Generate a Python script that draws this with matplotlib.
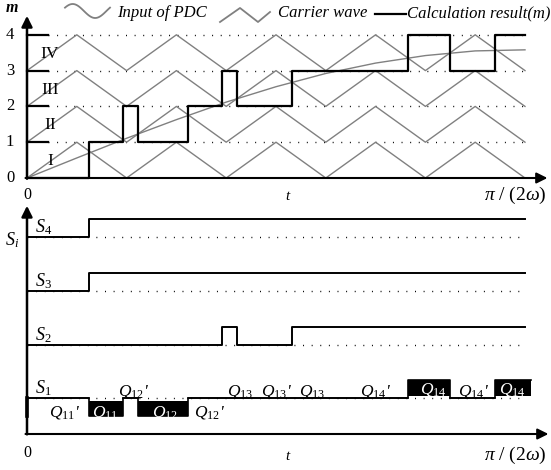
import numpy as np
import matplotlib
matplotlib.use('Agg')
import matplotlib.pyplot as plt

plt.rcParams['font.family'] = ['Liberation Serif', 'DejaVu Serif']
plt.rcParams['mathtext.fontset'] = 'custom'
plt.rcParams['mathtext.rm'] = 'Liberation Serif'
plt.rcParams['mathtext.it'] = 'Liberation Serif:italic'
plt.rcParams['mathtext.bf'] = 'Liberation Serif:bold:italic'

# ---------------- data ----------------
carrier_t = [0.0, 0.1, 0.2, 0.3, 0.4, 0.5, 0.6, 0.7, 0.8, 0.9, 1.0]
carrier_shape = [0, 1, 0, 1, 0, 1, 0, 1, 0, 1, 0]
band_bases = [0, 1, 2, 3]
band_labels = ['I', 'II', 'III', 'IV']

pdc_t = [0.0, 0.1, 0.2, 0.3, 0.4, 0.5, 0.6, 0.7, 0.8, 0.9, 1.0]
pdc_m = [0.0, 0.56, 1.11, 1.63, 2.12, 2.55, 2.92, 3.21, 3.42, 3.55, 3.58]

m_edges = [0.0, 0.125, 0.193, 0.223, 0.323, 0.392, 0.422, 0.532, 0.765, 0.849, 0.94, 1.0]
m_vals = [0, 1, 2, 1, 2, 3, 2, 3, 4, 3, 4]
m_ticks = [0, 1, 2, 3, 4]

s4_edges = [0.0, 0.125, 1.0]
s4_vals = [0, 1]
s3_edges = [0.0, 0.125, 1.0]
s3_vals = [0, 1]
s2_edges = [0.0, 0.392, 0.422, 0.532, 1.0]
s2_vals = [0, 1, 0, 1]
s1_edges = [0.0, 0.125, 0.193, 0.223, 0.323, 0.765, 0.849, 0.94, 1.012]
s1_vals = [0, -1, 0, -1, 0, 1, 0, 1]

s_names = ['$S_\\mathit{4}$', '$S_\\mathit{3}$', '$S_\\mathit{2}$', '$S_\\mathit{1}$']

q_text = ["$Q_\\mathit{11}$'", "$Q_\\mathit{11}$", "$Q_\\mathit{12}$'", "$Q_\\mathit{12}$",
          "$Q_\\mathit{12}$'", "$Q_\\mathit{13}$", "$Q_\\mathit{13}$'", "$Q_\\mathit{13}$",
          "$Q_\\mathit{14}$'", "$Q_\\mathit{14}$", "$Q_\\mathit{14}$'", "$Q_\\mathit{14}$"]
q_t = [0.076, 0.157, 0.213, 0.277, 0.367, 0.428, 0.502, 0.572, 0.699, 0.815, 0.896, 0.974]
q_side = ['below', 'box', 'above', 'box', 'below', 'above', 'above', 'above',
          'above', 'boxup', 'above', 'boxup']

# ---------------- figure ----------------
W, H = 551, 470
fig = plt.figure(figsize=(W / 100, H / 100), dpi=100)

px_t = 498.0   # pixels per unit t
x0 = 27.0
xlim = (-x0 / px_t, (W - x0) / px_t)

gray = '#808080'
dot = (0, (0.7, 5.5))

# ---- top panel ----
ax1 = fig.add_axes([0, (H - 200) / H, 1, 200 / H])
py_m = 35.8
ax1.set_xlim(*xlim)
ax1.set_ylim(-(200 - 178) / py_m, 178 / py_m)
ax1.axis('off')

for k in band_bases:
    ax1.plot(carrier_t, [k + s for s in carrier_shape], color=gray, lw=1.0, zorder=2)
ax1.plot(pdc_t, pdc_m, color=gray, lw=1.0, zorder=2)

for lv in m_ticks[1:]:
    ax1.plot([0.042, 1.0], [lv, lv], color='k', lw=1.0, ls=dot, zorder=1)
    ax1.plot([0, 0.042], [lv, lv], color='k', lw=1.6, zorder=3)

ax1.step(m_edges, m_vals + [m_vals[-1]], where='post', color='k', lw=1.6, zorder=4)

ax1.annotate('', xy=(1.045, 0), xytext=(-0.003, 0),
             arrowprops=dict(arrowstyle='-|>', lw=1.5, color='k',
                             shrinkA=0, shrinkB=0, mutation_scale=16))
ax1.annotate('', xy=(0, 4.53), xytext=(0, -0.02),
             arrowprops=dict(arrowstyle='-|>', lw=1.8, color='k',
                             shrinkA=0, shrinkB=0, mutation_scale=16))

for v in m_ticks:
    ax1.text(-0.034, v, str(v), ha='center', va='center', fontsize=12)
for k, lab in zip(band_bases, band_labels):
    ax1.text(0.046, k + 0.47, lab, ha='center', va='center', fontsize=12.5)

ax1.text(-0.031, 4.76, 'm', ha='center', va='center', fontsize=11.5,
         fontstyle='italic', fontweight='bold')
ax1.text(0.0, -0.47, '0', ha='center', va='center', fontsize=11.5)
ax1.text(0.522, -0.53, 't', ha='center', va='center', fontsize=11, fontstyle='italic')
ax1.text(0.98, -0.5, '$\\pi$ / (2$\\omega$)', ha='center', va='center', fontsize=14)

# ---- bottom panel ----
ax2 = fig.add_axes([0, 0, 1, (H - 200) / H])
py_s = 17.9
ax2.set_xlim(*xlim)
ax2.set_ylim((434 - 470) / py_s, (434 - 200) / py_s)
ax2.axis('off')

bases = [11, 8, 5, 2]
for base, edges, vals in [(11, s4_edges, s4_vals), (8, s3_edges, s3_vals),
                          (5, s2_edges, s2_vals)]:
    ax2.plot([0, 1.0], [base, base], color='k', lw=1.0, ls=dot, zorder=1)
    ax2.step(edges, [base + v for v in vals + [vals[-1]]], where='post',
             color='k', lw=1.4, zorder=3)

# S1 three-level waveform with black boxes
b1 = 2
ax2.plot([0, 1.0], [b1, b1], color='k', lw=1.0, ls=dot, zorder=1)
ax2.step(s1_edges, [b1 + v for v in s1_vals + [s1_vals[-1]]], where='post',
         color='k', lw=1.2, zorder=3)
for i, v in enumerate(s1_vals):
    if v == 0:
        ax2.plot([s1_edges[i], s1_edges[i + 1]], [b1, b1], color='k', lw=1.2, zorder=3)
    elif v < 0:
        ax2.fill_between([s1_edges[i], s1_edges[i + 1]], b1 - 0.15, b1 - 1,
                         color='k', lw=0, zorder=2)
    else:
        ax2.fill_between([s1_edges[i], s1_edges[i + 1]], b1 + 0.15, b1 + 1,
                         color='k', lw=0, zorder=2)
ax2.plot([0, 0], [b1, b1 - 1], color='k', lw=2.6, zorder=4)

ax2.annotate('', xy=(1.047, 0), xytext=(-0.003, 0),
             arrowprops=dict(arrowstyle='-|>', lw=1.5, color='k',
                             shrinkA=0, shrinkB=0, mutation_scale=16))
ax2.annotate('', xy=(0, 12.75), xytext=(0, -0.02),
             arrowprops=dict(arrowstyle='-|>', lw=1.8, color='k',
                             shrinkA=0, shrinkB=0, mutation_scale=16))

ax2.text(-0.03, 10.85, '$S_i$', ha='center', va='center', fontsize=13)
for base, name in zip(bases, s_names):
    ax2.text(0.016, base + 0.55, name, ha='left', va='center', fontsize=13)

for txt, t, side in zip(q_text, q_t, q_side):
    if side == 'below':
        ax2.text(t, 1.2, txt, ha='center', va='center', fontsize=12.5, fontstyle='italic')
    elif side == 'above':
        ax2.text(t, 2.4, txt, ha='center', va='center', fontsize=12.5, fontstyle='italic')
    elif side == 'box':
        ax2.text(t, 1.2, txt, ha='center', va='center', fontsize=12.5, fontstyle='italic',
                 color='white', zorder=5)
    else:
        ax2.text(t, 2.5, txt, ha='center', va='center', fontsize=12.5, fontstyle='italic',
                 color='white', zorder=5)

ax2.text(0.0, -1.06, '0', ha='center', va='center', fontsize=11.5)
ax2.text(0.522, -1.28, 't', ha='center', va='center', fontsize=11, fontstyle='italic')
ax2.text(0.98, -1.17, '$\\pi$ / (2$\\omega$)', ha='center', va='center', fontsize=14)

# ---- legend (pixel coordinates) ----
lax = fig.add_axes([0, 0, 1, 1])
lax.set_xlim(0, W)
lax.set_ylim(H, 0)
lax.axis('off')
lax.patch.set_alpha(0)
xs = np.linspace(65, 110, 60)
lax.plot(xs, 11 - 7 * np.sin((xs - 65) / 45 * 2 * np.pi + 0.5), color=gray, lw=1.3)
lax.text(117, 13, 'Input of PDC', ha='left', va='center', fontsize=12, fontstyle='italic')
lax.plot([220, 240, 258, 270], [22, 8, 22, 12], color=gray, lw=1.3)
lax.text(278, 13, 'Carrier wave', ha='left', va='center', fontsize=12, fontstyle='italic')
lax.plot([375, 406], [14, 14], color='k', lw=1.6)
lax.text(407, 13, 'Calculation result(m)', ha='left', va='center', fontsize=12,
         fontstyle='italic', clip_on=False)

fig.savefig('out.png', dpi=100)
